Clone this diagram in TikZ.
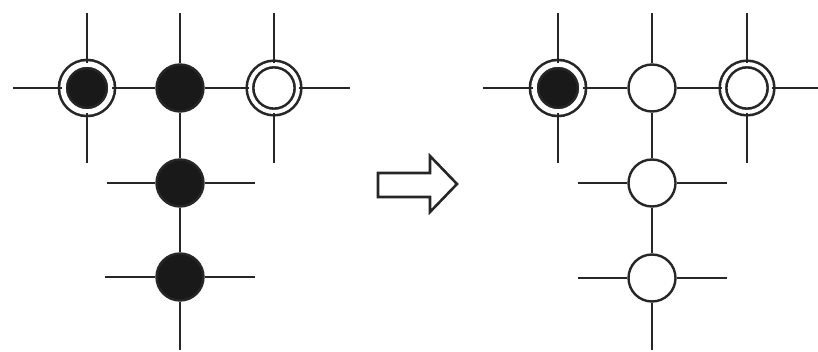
\documentclass[tikz,border=0pt]{standalone}
\usepackage{tikz}
\usetikzlibrary{arrows.meta}

\begin{document}
\begin{tikzpicture}[
  x=1pt,y=-1pt,
  every path/.style={draw=black!85,line width=2.8pt},
  solid/.style={circle,fill=black!90,draw=black!85,line width=2.4pt,
    minimum size=47pt,inner sep=0pt},
  hollow/.style={circle,fill=white,draw=black!85,line width=2.4pt,
    minimum size=47pt,inner sep=0pt},
  ringed/.style={circle,fill=black!90,draw=black!85,double=white,
    double distance=5.5pt,line width=2.6pt,minimum size=48pt,inner sep=0pt},
  ringopen/.style={circle,fill=white,draw=black!85,double=white,
    double distance=4pt,line width=2.6pt,minimum size=48pt,inner sep=0pt}]

\path[draw=none,use as bounding box] (0,0) rectangle (818,352);

% before
\node[ringed] (lhead) at (87,88) {};
\node[solid] (ljoin) at (180,88) {};
\node[ringopen] (ltail) at (274,88) {};
\node[solid] (lsecond) at (180,183) {};
\node[solid] (lthird) at (180,277) {};

\coordinate (lheadup) at (87,13);
\coordinate (lheaddown) at (87,163);
\coordinate (lheadleft) at (13,88);
\coordinate (ljoinup) at (180,13);
\coordinate (ltailup) at (274,13);
\coordinate (ltaildown) at (274,163);
\coordinate (ltailright) at (350,88);
\coordinate (lsecondleft) at (107,183);
\coordinate (lsecondright) at (255,183);
\coordinate (lthirdleft) at (105,277);
\coordinate (lthirdright) at (255,277);
\coordinate (lthirddown) at (180,350);

\draw (lhead) -- (lheadup);
\draw (lhead) -- (lheaddown);
\draw (lhead) -- (lheadleft);
\draw (lhead) -- (ljoin);
\draw (ljoin) -- (ltail);
\draw (ljoin) -- (ljoinup);
\draw (ljoin) -- (lsecond);
\draw (ltail) -- (ltailup);
\draw (ltail) -- (ltaildown);
\draw (ltail) -- (ltailright);
\draw (lsecond) -- (lsecondleft);
\draw (lsecond) -- (lsecondright);
\draw (lsecond) -- (lthird);
\draw (lthird) -- (lthirdleft);
\draw (lthird) -- (lthirdright);
\draw (lthird) -- (lthirddown);

% arrow
\draw[line width=2.6pt,line join=miter] (378,173) -- (430,173) -- (430,156)
  -- (457,184) -- (430,212) -- (430,197) -- (378,197) -- cycle;

% after
\node[ringed] (rhead) at (558,88) {};
\node[hollow] (rjoin) at (652,88) {};
\node[ringopen] (rtail) at (747,88) {};
\node[hollow] (rsecond) at (652,183) {};
\node[hollow] (rthird) at (652,278) {};

\coordinate (rheadup) at (558,13);
\coordinate (rheaddown) at (558,163);
\coordinate (rheadleft) at (483,88);
\coordinate (rjoinup) at (652,13);
\coordinate (rtailup) at (747,13);
\coordinate (rtaildown) at (747,163);
\coordinate (rtailright) at (818,88);
\coordinate (rsecondleft) at (578,183);
\coordinate (rsecondright) at (727,183);
\coordinate (rthirdleft) at (578,278);
\coordinate (rthirdright) at (727,278);
\coordinate (rthirddown) at (652,350);

\draw (rhead) -- (rheadup);
\draw (rhead) -- (rheaddown);
\draw (rhead) -- (rheadleft);
\draw (rhead) -- (rjoin);
\draw (rjoin) -- (rtail);
\draw (rjoin) -- (rjoinup);
\draw (rjoin) -- (rsecond);
\draw (rtail) -- (rtailup);
\draw (rtail) -- (rtaildown);
\draw (rtail) -- (rtailright);
\draw (rsecond) -- (rsecondleft);
\draw (rsecond) -- (rsecondright);
\draw (rsecond) -- (rthird);
\draw (rthird) -- (rthirdleft);
\draw (rthird) -- (rthirdright);
\draw (rthird) -- (rthirddown);
\end{tikzpicture}
\end{document}
